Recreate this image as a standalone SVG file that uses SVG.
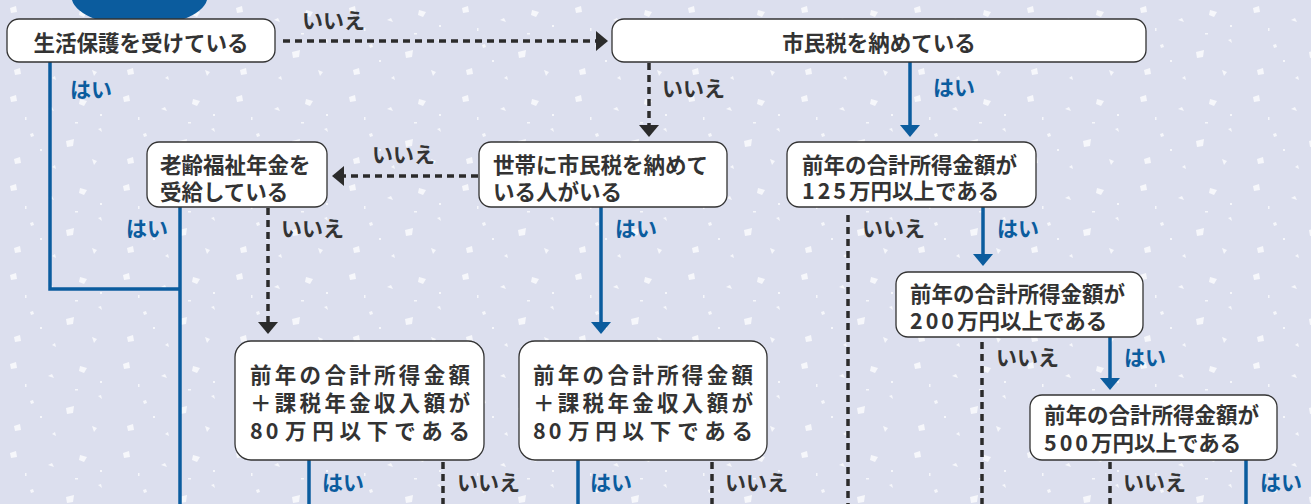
<svg xmlns="http://www.w3.org/2000/svg" width="1311" height="504" viewBox="0 0 1311 504">
<style>
.box{fill:#fff;stroke:#333;stroke-width:1.3}
.t{font-family:"Noto Sans CJK JP","Noto Sans",sans-serif;font-weight:700;font-size:21.5px;fill:#333;dominant-baseline:central}
.dg{letter-spacing:3px}
.yes{font-family:"Noto Sans CJK JP","Noto Sans",sans-serif;font-weight:700;font-size:21px;fill:#0b5c9e;dominant-baseline:central}
.no{font-family:"Noto Sans CJK JP","Noto Sans",sans-serif;font-weight:700;font-size:21px;fill:#333;dominant-baseline:central}
.b{fill:none;stroke:#0b5c9e;stroke-width:3.5}
.d{fill:none;stroke:#2b2b2b;stroke-width:3.5;stroke-dasharray:7 5}
.ba{marker-end:url(#ab)}
.da{marker-end:url(#ad)}
</style>
<defs>
<pattern id="speck" width="113" height="89" patternUnits="userSpaceOnUse">
<g fill="#fff" opacity="0.75">
<polygon points="10,8 16,6 17,12 11,13"/>
<polygon points="48,20 52,18 54,22"/>
<polygon points="80,10 87,12 84,17 79,15"/>
<polygon points="30,45 33,44 34,47 31,48"/>
<polygon points="66,52 74,50 73,57 67,58"/>
<polygon points="98,40 101,39 102,43"/>
<polygon points="14,70 20,68 21,74 15,75"/>
<polygon points="52,78 55,76 56,80"/>
<polygon points="92,70 97,72 94,76"/>
<rect x="40" y="60" width="2" height="2"/>
<rect x="100" y="25" width="2" height="2"/>
<rect x="25" y="28" width="1.5" height="3"/>
<rect x="75" y="33" width="3" height="1.5"/>
</g>
</pattern>
<marker id="ab" viewBox="0 0 12 20" refX="0" refY="10" markerWidth="12" markerHeight="20" markerUnits="userSpaceOnUse" orient="auto">
<path d="M0,0 L12,10 L0,20 Z" fill="#0b5c9e"/>
</marker>
<marker id="ad" viewBox="0 0 12 20" refX="0" refY="10" markerWidth="12" markerHeight="20" markerUnits="userSpaceOnUse" orient="auto">
<path d="M0,0 L12,10 L0,20 Z" fill="#2b2b2b"/>
</marker>
</defs>
<rect width="1311" height="504" fill="#dcdfee"/>
<rect width="1311" height="504" fill="url(#speck)"/>
<path d="M72,0 A68,30 0 0 0 207,0 Z" fill="#0b5c9e"/>

<g id="connectors">
<path class="b" d="M50,62 V289 H180"/>
<path class="b" d="M180,207 V504"/>
<path class="d da" d="M283,41 H596"/>
<path class="d da" d="M649,63 V125"/>
<path class="b ba" d="M910,62 V125"/>
<path class="d da" d="M478,176 H344"/>
<path class="d da" d="M268,208 V322"/>
<path class="b ba" d="M601,207 V322"/>
<path class="d" d="M848,215 V504"/>
<path class="b ba" d="M983,207 V254"/>
<path class="d" d="M982,342 V504"/>
<path class="b ba" d="M1110,337 V378"/>
<path class="d" d="M1110,462 V504"/>
<path class="b" d="M1246,460 V504"/>
<path class="b" d="M309,460 V504"/>
<path class="d" d="M443,462 V504"/>
<path class="b" d="M578,460 V504"/>
<path class="d" d="M712,462 V504"/>
<text class="no" x="302" y="19">いいえ</text>
<text class="yes" x="70" y="88">はい</text>
<text class="no" x="662" y="87">いいえ</text>
<text class="yes" x="933" y="86">はい</text>
<text class="no" x="372" y="153">いいえ</text>
<text class="yes" x="126" y="227">はい</text>
<text class="no" x="281" y="227">いいえ</text>
<text class="yes" x="615" y="227">はい</text>
<text class="no" x="862" y="227">いいえ</text>
<text class="yes" x="997" y="227">はい</text>
<text class="no" x="996" y="356">いいえ</text>
<text class="yes" x="1124" y="356">はい</text>
<text class="no" x="1123" y="481">いいえ</text>
<text class="yes" x="1260" y="481">はい</text>
<text class="yes" x="322" y="481">はい</text>
<text class="no" x="457" y="481">いいえ</text>
<text class="yes" x="590" y="481">はい</text>
<text class="no" x="725" y="481">いいえ</text>
</g>

<g id="n1">
<rect class="box" x="7" y="19" width="268" height="43" rx="12"/>
<text class="t" x="141" y="41" text-anchor="middle">生活保護を受けている</text>
</g>
<g id="n2">
<rect class="box" x="612" y="19" width="534" height="43" rx="12"/>
<text class="t" x="879" y="41" text-anchor="middle">市民税を納めている</text>
</g>
<g id="n3">
<rect class="box" x="479" y="142" width="248" height="65" rx="12"/>
<text class="t" x="493" y="163">世帯に市民税を納めて</text>
<text class="t" x="493" y="190">いる人がいる</text>
</g>
<g id="n4">
<rect class="box" x="147" y="142" width="180" height="65" rx="12"/>
<text class="t" x="160" y="163">老齢福祉年金を</text>
<text class="t" x="160" y="190">受給している</text>
</g>
<g id="n5">
<rect class="box" x="787" y="142" width="249" height="65" rx="12"/>
<text class="t" x="802" y="163">前年の合計所得金額が</text>
<text class="t" x="802" y="189"><tspan class="dg">125</tspan>万円以上である</text>
</g>
<g id="n6">
<rect class="box" x="235" y="341" width="249" height="119" rx="16"/>
<text class="t" x="250" y="373" textLength="220" lengthAdjust="spacing">前年の合計所得金額</text>
<text class="t" x="250" y="401" textLength="220" lengthAdjust="spacing">＋課税年金収入額が</text>
<text class="t dg" x="250" y="429">80</text>
<text class="t" x="285" y="429" textLength="185" lengthAdjust="spacing">万円以下である</text>
</g>
<g id="n7">
<rect class="box" x="519" y="341" width="248" height="119" rx="16"/>
<text class="t" x="533" y="373" textLength="220" lengthAdjust="spacing">前年の合計所得金額</text>
<text class="t" x="533" y="401" textLength="220" lengthAdjust="spacing">＋課税年金収入額が</text>
<text class="t dg" x="533" y="429">80</text>
<text class="t" x="568" y="429" textLength="185" lengthAdjust="spacing">万円以下である</text>
</g>
<g id="n8">
<rect class="box" x="896" y="272" width="247" height="65" rx="12"/>
<text class="t" x="910" y="292">前年の合計所得金額が</text>
<text class="t" x="910" y="319"><tspan class="dg">200</tspan>万円以上である</text>
</g>
<g id="n9">
<rect class="box" x="1030" y="395" width="247" height="65" rx="12"/>
<text class="t" x="1044" y="413">前年の合計所得金額が</text>
<text class="t" x="1044" y="441"><tspan class="dg">500</tspan>万円以上である</text>
</g>
</svg>
